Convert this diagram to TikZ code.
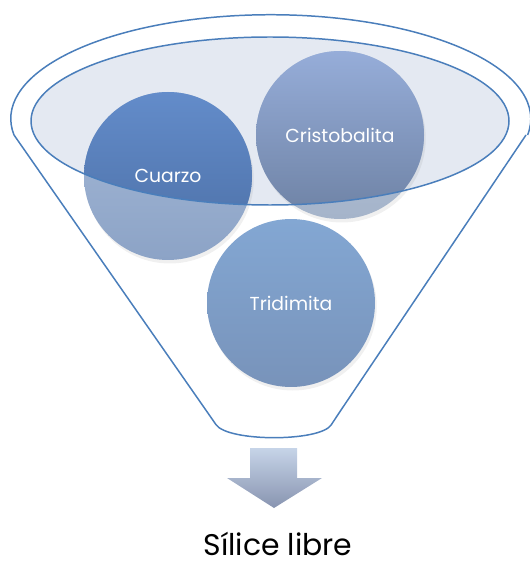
\documentclass[tikz,border=0pt]{standalone}
\usepackage{fontspec}
\setmainfont{Poppins}
\usetikzlibrary{shadows}

\definecolor{rim}{HTML}{4A7EBB}
\definecolor{bowl}{HTML}{E4E9F2}
\definecolor{arrtop}{HTML}{C6D4E8}
\definecolor{arrbot}{HTML}{8894B0}

\begin{document}
\begin{tikzpicture}[
            x=0.02cm, y=-0.02cm,
            ball/.style={
              circle, minimum size=3.36cm, inner sep=0pt
            },
            lbl/.style={
              text=white, font=\fontsize{10.7}{13}\selectfont
            },
            rimline/.style={
              draw=rim, line width=0.85pt
            }
        ]
    \useasboundingbox (0,0) rectangle (529,564);
    \def\r{84}

    % funnel body
    \draw[rimline, rounded corners=6pt]
      (14,135) -- (210,416)
      .. controls (228,442) and (320,442) .. (337,416)
      -- (526,135);
    \draw[rimline] (14,135) arc[start angle=189, end angle=-9,
      x radius=260, y radius=-104];

    % inner ellipse
    \fill[bowl] (270,121) ellipse[x radius=239, y radius=84];

    % balls, light part
    \foreach \n/\x/\y/\c/\d in {cuarzo/168/176/A6BAD8/8CA3C6,
                               cristo/340/135/B4C3DA/A5B4CA,
                               tridi/291/303/83A7D3/7893BA}{
      \definecolor{tc}{HTML}{\c}\definecolor{bc}{HTML}{\d}
      \node[ball, top color=tc, bottom color=bc,
            drop shadow={shadow xshift=1pt, shadow yshift=-2pt,
                         opacity=0.12}] (\n) at (\x,\y) {};
    }

    % balls, part inside the ellipse
    \begin{scope}
      \clip (270,121) ellipse[x radius=239, y radius=84];
      \foreach \n/\c/\d in {cuarzo/638CCA/4B6EA4, cristo/96ADD9/6E82A4}{
        \definecolor{tc}{HTML}{\c}\definecolor{bc}{HTML}{\d}
        \shade[top color=tc, bottom color=bc] (\n) circle[radius=\r];
      }
    \end{scope}
    \draw[rimline] (270,121) ellipse[x radius=239, y radius=84];

    \foreach \n/\t in {cuarzo/Cuarzo, cristo/Cristobalita, tridi/Tridimita}
      \node[lbl] (\n-t) at (\n) {\t};

    % arrow
    \shade[top color=arrtop, bottom color=arrbot]
      (250,448) -- (297,448) -- (297,478) -- (322,478)
      -- (274,508) -- (227,478) -- (250,478) -- cycle;

    \node[anchor=base, inner sep=0pt, font=\fontsize{17}{20}\selectfont]
      (silice) at (278,555) {Sílice libre};

    \end{tikzpicture}
\end{document}
